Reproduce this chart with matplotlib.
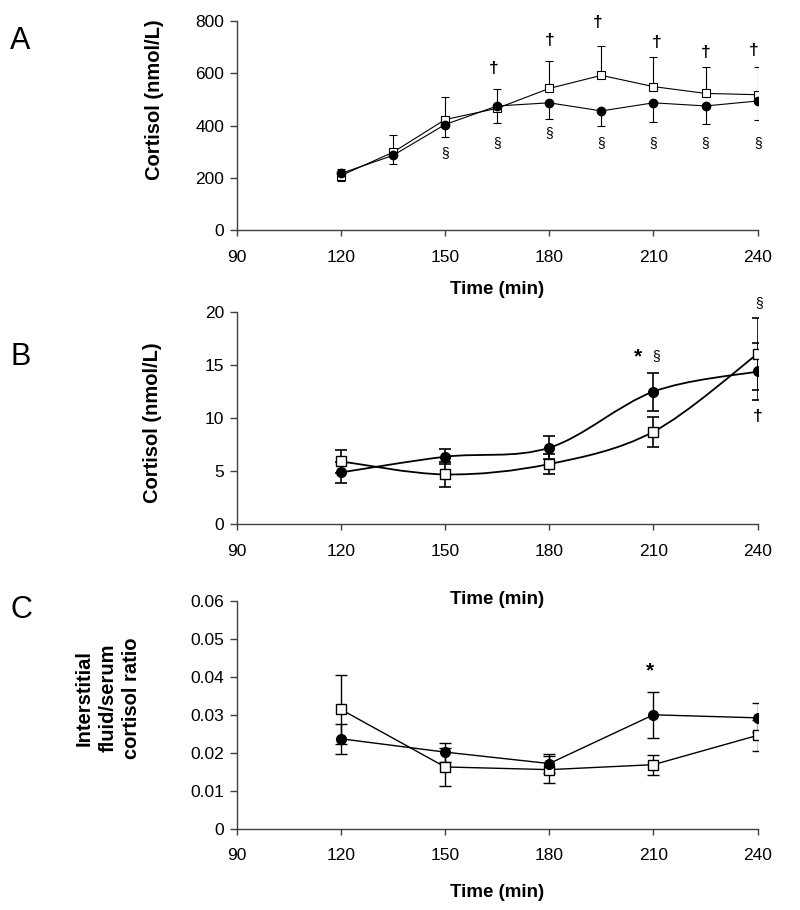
import matplotlib
matplotlib.use("Agg")
import matplotlib.pyplot as plt
from matplotlib.path import Path
from matplotlib.patches import PathPatch

plt.rcParams['font.family'] = ['Liberation Sans', 'DejaVu Sans']

# Panel A - serum cortisol
time_a = [120, 135, 150, 165, 180, 195, 210, 225, 240]
circ_a = [217, 286, 404, 475, 487, 456, 487, 475, 494]
circ_a_err = [30, 33, 47, 65, 63, 56, 73, 69, 73]
sq_a = [209, 298, 423, 466, 542, 592, 549, 523, 518]
sq_a_err = [25, 66, 87, 73, 104, 114, 112, 100, 105]
dagger_a_x = [164, 180, 194, 211, 225, 239]
dagger_a_y = [620, 727, 794, 717, 680, 686]
sect_a_x = [150, 165, 180, 195, 210, 225, 240]
sect_a_y = [295, 332, 370, 332, 332, 332, 332]

# Panel B - interstitial fluid cortisol
time_b = [120, 150, 180, 210, 240]
circ_b = [4.88, 6.36, 7.21, 12.5, 14.4]
circ_b_err = [1.0, 0.7, 1.1, 1.8, 2.7]
sq_b = [5.92, 4.69, 5.67, 8.72, 16.06]
sq_b_err = [1.1, 1.2, 0.95, 1.4, 3.4]

# Panel C - ratio
time_c = [120, 150, 180, 210, 240]
circ_c = [0.0237, 0.0202, 0.0172, 0.0300, 0.0292]
circ_c_err = [0.004, 0.0025, 0.0024, 0.006, 0.0038]
sq_c = [0.0314, 0.0163, 0.0156, 0.0169, 0.0246]
sq_c_err = [0.009, 0.005, 0.0035, 0.0026, 0.004]

xticks = [90, 120, 150, 180, 210, 240]
spine_col = '#404040'


def smooth_path(xs, ys):
    # Excel style smoothed line: Catmull-Rom converted to cubic Bezier
    pts = list(zip(xs, ys))
    verts = [pts[0]]
    codes = [Path.MOVETO]
    n = len(pts)
    for i in range(n - 1):
        p0 = pts[i - 1] if i > 0 else pts[i]
        p1 = pts[i]
        p2 = pts[i + 1]
        p3 = pts[i + 2] if i + 2 < n else pts[i + 1]
        c1 = (p1[0] + (p2[0] - p0[0]) / 6, p1[1] + (p2[1] - p0[1]) / 6)
        c2 = (p2[0] - (p3[0] - p1[0]) / 6, p2[1] - (p3[1] - p1[1]) / 6)
        verts += [c1, c2, p2]
        codes += [Path.CURVE4] * 3
    return Path(verts, codes)


def style_axes(ax, ylim, yticks, ylabels):
    ax.set_xlim(90, 240)
    ax.set_ylim(*ylim)
    ax.set_xticks(xticks)
    ax.set_yticks(yticks)
    ax.set_yticklabels(ylabels)
    ax.patch.set_alpha(0)
    ax.spines['top'].set_visible(False)
    ax.spines['right'].set_visible(False)
    for s in ['left', 'bottom']:
        ax.spines[s].set_color(spine_col)
        ax.spines[s].set_linewidth(1.0)
    ax.tick_params(axis='both', colors=spine_col, labelcolor='black', labelsize=12.5, width=1.0)
    ax.tick_params(axis='y', length=5, pad=4)
    ax.tick_params(axis='x', length=4, pad=10)


fig = plt.figure(figsize=(8, 9.1), dpi=100)
axA = fig.add_axes([0.296, 0.747, 0.651, 0.230])
axB = fig.add_axes([0.296, 0.424, 0.651, 0.233])
axC = fig.add_axes([0.296, 0.089, 0.651, 0.251])

# ---- A ----
axA.plot(time_a, sq_a, color='black', lw=0.8, zorder=2)
axA.plot(time_a, circ_a, color='black', lw=0.8, zorder=2)
axA.errorbar(time_a, sq_a, yerr=[[0] * len(sq_a), sq_a_err], fmt='none',
             ecolor='black', elinewidth=0.8, capsize=3, capthick=0.8, zorder=1)
axA.errorbar(time_a, circ_a, yerr=[circ_a_err, [0] * len(circ_a)], fmt='none',
             ecolor='black', elinewidth=0.8, capsize=3, capthick=0.8, zorder=1)
axA.plot(time_a, sq_a, 's', ms=6, mfc='white', mec='black', mew=0.8, zorder=3)
axA.plot(time_a, circ_a, 'o', ms=6, mfc='black', mec='black', zorder=4)
for x, y in zip(dagger_a_x, dagger_a_y):
    axA.text(x, y, '\u2020', ha='center', va='center', fontsize=12.5, fontweight='bold')
for x, y in zip(sect_a_x, sect_a_y):
    axA.text(x, y, '\u00a7', ha='center', va='center', fontsize=10)
style_axes(axA, (0, 800), [0, 200, 400, 600, 800], ['0', '200', '400', '600', '800'])
axA.set_xlabel('Time (min)', fontsize=13.5, fontweight='bold', labelpad=12)
fig.text(0.193, 0.89, 'Cortisol (nmol/L)', rotation=90, ha='center', va='center',
         fontsize=14.5, fontweight='bold')

# ---- B ----
axB.add_patch(PathPatch(smooth_path(time_b, sq_b), fill=False, lw=1.3, color='black', zorder=2))
axB.add_patch(PathPatch(smooth_path(time_b, circ_b), fill=False, lw=1.3, color='black', zorder=2))
axB.errorbar(time_b, sq_b, yerr=sq_b_err, fmt='none', ecolor='black',
             elinewidth=1.2, capsize=4, capthick=1.2, zorder=1)
axB.errorbar(time_b, circ_b, yerr=circ_b_err, fmt='none', ecolor='black',
             elinewidth=1.2, capsize=4, capthick=1.2, zorder=1)
axB.plot(time_b, sq_b, 's', ms=7, mfc='white', mec='black', mew=1.0, zorder=3)
axB.plot(time_b, circ_b, 'o', ms=7, mfc='black', mec='black', zorder=4)
axB.text(205.6, 15.8, '*', ha='center', va='center', fontsize=15, fontweight='bold')
axB.text(210.8, 15.9, '\u00a7', ha='center', va='center', fontsize=10)
axB.text(240.5, 20.9, '\u00a7', ha='center', va='center', fontsize=10, clip_on=False)
axB.text(240, 10.2, '\u2020', ha='center', va='center', fontsize=12.5, fontweight='bold')
style_axes(axB, (0, 20), [0, 5, 10, 15, 20], ['0', '5', '10', '15', '20'])
axB.set_xlabel('Time (min)', fontsize=13.5, fontweight='bold', labelpad=23)
fig.text(0.191, 0.535, 'Cortisol (nmol/L)', rotation=90, ha='center', va='center',
         fontsize=14.5, fontweight='bold')

# ---- C ----
axC.plot(time_c, sq_c, color='black', lw=1.0, zorder=2)
axC.plot(time_c, circ_c, color='black', lw=1.0, zorder=2)
axC.errorbar(time_c, sq_c, yerr=sq_c_err, fmt='none', ecolor='black',
             elinewidth=1.0, capsize=4, capthick=1.0, zorder=1)
axC.errorbar(time_c, circ_c, yerr=circ_c_err, fmt='none', ecolor='black',
             elinewidth=1.0, capsize=4, capthick=1.0, zorder=1)
axC.plot(time_c, sq_c, 's', ms=7, mfc='white', mec='black', mew=1.0, zorder=3)
axC.plot(time_c, circ_c, 'o', ms=7, mfc='black', mec='black', zorder=4)
axC.text(209, 0.0415, '*', ha='center', va='center', fontsize=15, fontweight='bold')
style_axes(axC, (0, 0.06), [0, 0.01, 0.02, 0.03, 0.04, 0.05, 0.06],
           ['0', '0.01', '0.02', '0.03', '0.04', '0.05', '0.06'])
axC.set_xlabel('Time (min)', fontsize=13.5, fontweight='bold', labelpad=15)
fig.text(0.135, 0.233, 'Interstitial\nfluid/serum\ncortisol ratio', rotation=90,
         ha='center', va='center', fontsize=14.5, fontweight='bold', linespacing=1.3)

# panel letters
fig.text(0.013, 0.955, 'A', fontsize=22, va='center', ha='left')
fig.text(0.013, 0.608, 'B', fontsize=22, va='center', ha='left')
fig.text(0.013, 0.330, 'C', fontsize=22, va='center', ha='left')

fig.savefig('out.png', dpi=100)
